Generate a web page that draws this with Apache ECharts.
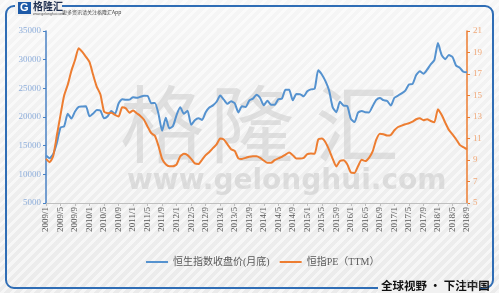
<!DOCTYPE html>
<html>
<head>
<meta charset="utf-8">
<script src="https://cdn.jsdelivr.net/npm/echarts@6/dist/echarts.min.js"></script>
<style>
html,body{margin:0;padding:0;}
#wrap{position:relative;width:499px;height:293px;
background:
 linear-gradient(to bottom, rgba(255,255,255,0.55), rgba(255,255,255,0.15) 70%, rgba(255,255,255,0)),
 repeating-linear-gradient(135deg, #ebebeb 0px, #ebebeb 4px, #f6f6f6 4px, #f6f6f6 7px);
}
#chart{width:499px;height:293px;}
</style>
</head>
<body>
<div id="wrap"><div id="chart"></div></div>
<script>
// ---- data ----
const months = [];
for (let y = 2009; y <= 2018; y++) {
  for (let m = 1; m <= 12; m++) {
    if (y === 2018 && m > 9) break;
    months.push(y + '/' + m);
  }
}
const hsiClose = [
  13278, 12812, 13576, 15521, 18171, 18379, 20573, 19724, 20955, 21753, 21822, 21873,
  20122, 20609, 21239, 21108, 19765, 20129, 21030, 20537, 22359, 23096, 23008, 23035,
  23447, 23338, 23528, 23720, 23684, 22398, 22440, 20535, 17592, 19864, 17989, 18434,
  20390, 21680, 20556, 21094, 18630, 19441, 19796, 19482, 20840, 21642, 22030, 22657,
  23730, 23020, 22300, 22737, 22392, 20803, 21884, 21731, 22860, 23206, 23881, 23306,
  22035, 22837, 22151, 22134, 23082, 23191, 24757, 24742, 22933, 23998, 23987, 23605,
  24507, 24823, 24901, 28133, 27424, 26250, 24636, 21670, 20846, 22640, 21996, 21914,
  19683, 19112, 20777, 21067, 20815, 20794, 21891, 22977, 23297, 22935, 22790, 22001,
  23361, 23741, 24112, 24615, 25661, 25765, 27324, 27970, 27554, 28246, 29177, 29919,
  32887, 30845, 30093, 30808, 30469, 28955, 28583, 27889, 27789
];
const hsiPE = [
  9.1, 8.8, 9.4, 11.3, 13.2, 15.0, 16.0, 17.3, 18.3, 19.4, 19.05, 18.6,
  18.1, 16.9, 15.8, 15.1, 13.5, 13.35, 13.4, 13.2, 13.05, 13.9, 13.8, 13.4,
  13.6, 13.35, 13.1, 12.75, 12.1, 11.5, 11.25, 10.3, 9.1, 8.6, 8.42, 8.42,
  8.6, 9.35, 9.57, 9.45, 9.1, 8.68, 8.62, 9.02, 9.45, 9.75, 10.1, 10.45,
  11.0, 10.9, 10.45, 10.0, 9.85, 9.15, 9.1, 9.2, 9.3, 9.35, 9.35, 9.2,
  8.95, 8.74, 8.74, 8.98, 9.15, 9.3, 9.5, 9.7, 9.45, 9.14, 9.14, 9.2,
  9.55, 9.6, 9.57, 10.9, 11.0, 10.65, 9.95, 9.1, 8.4, 8.9, 8.98, 8.6,
  7.84, 7.8, 8.45, 9.02, 8.9, 9.2, 9.8, 10.9, 11.45, 11.4, 11.27, 11.33,
  11.77, 12.07, 12.2, 12.32, 12.42, 12.57, 12.79, 12.88, 12.7, 12.79, 12.63, 12.51,
  13.72, 13.2, 12.48, 11.8, 11.39, 10.93, 10.41, 10.19, 10.0
];
const seriesNames = ['恒生指数收盘价(月底)', '恒指PE（TTM）'];
const headerText = '更多资讯请关注格隆汇App';
const footerText = '全球视野 · 下注中国';
const watermarkChars = ['格', '隆', '汇'];
const watermarkUrl = 'www.gelonghui.com';

// ---- chart ----
const chart = echarts.init(document.getElementById('chart'), null, {renderer: 'canvas'});
const serif = '"Liberation Serif", "Noto Sans CJK SC", serif';
const bgCover = '#f1f1f1';
const frameBlue = '#2f6db5';
const wmFill = 'rgba(200,200,200,0.5)';

chart.setOption({
  backgroundColor: 'transparent',
  animation: false,
  grid: {left: 46, right: 32, top: 31, bottom: 90},
  legend: {
    data: seriesNames,
    left: 141, top: 252,
    icon: 'rect', itemWidth: 22, itemHeight: 2, itemGap: 10,
    textStyle: {fontFamily: serif, fontSize: 10, color: '#595959'}
  },
  xAxis: {
    type: 'category', data: months, boundaryGap: false,
    axisLine: {lineStyle: {color: '#bfbfbf', width: 1}},
    axisTick: {interval: 3, length: 3, lineStyle: {color: '#bfbfbf'}},
    axisLabel: {interval: 3, rotate: 90, fontFamily: serif, fontSize: 9, color: '#595959', margin: 4}
  },
  yAxis: [
    {
      type: 'value', min: 5000, max: 35000, interval: 5000,
      splitLine: {show: false},
      axisLine: {show: true, lineStyle: {color: '#4a82c4', width: 1.5}},
      axisTick: {show: true, length: 3, lineStyle: {color: '#4a82c4'}},
      axisLabel: {formatter: function (v) { return String(v); }, fontFamily: serif, fontSize: 9, color: '#8eaedb', margin: 5}
    },
    {
      type: 'value', min: 5, max: 21, interval: 2,
      splitLine: {show: false},
      axisLine: {show: true, lineStyle: {color: '#ed7d31', width: 1.5}},
      axisTick: {show: true, length: 3, lineStyle: {color: '#ed7d31'}},
      axisLabel: {fontFamily: serif, fontSize: 9, color: '#f0a878', margin: 6}
    }
  ],
  series: [
    {
      name: seriesNames[0], type: 'line', data: hsiClose, yAxisIndex: 0,
      showSymbol: false, symbol: 'none', smooth: 0.2,
      lineStyle: {color: '#5592cf', width: 2},
      itemStyle: {color: '#5592cf'}, z: 3
    },
    {
      name: seriesNames[1], type: 'line', data: hsiPE, yAxisIndex: 1,
      showSymbol: false, symbol: 'none', smooth: 0.2,
      lineStyle: {color: '#ed7d31', width: 2},
      itemStyle: {color: '#ed7d31'}, z: 3
    }
  ],
  graphic: [
    // watermark
    {type: 'text', z: -10, left: 120, top: 82, style: {text: watermarkChars[0], fontSize: 84, fontFamily: '"Noto Sans CJK SC"', fontWeight: 'normal', fill: wmFill}},
    {type: 'text', z: -10, left: 210, top: 82, style: {text: watermarkChars[1], fontSize: 84, fontFamily: '"Noto Sans CJK SC"', fontWeight: 'normal', fill: wmFill}},
    {type: 'text', z: -10, left: 315, top: 82, style: {text: watermarkChars[2], fontSize: 84, fontFamily: '"Noto Sans CJK SC"', fontWeight: 'normal', fill: wmFill}},
    {type: 'text', z: -10, left: 127, top: 168, style: {text: watermarkUrl, fontSize: 28, fontFamily: '"DejaVu Sans"', fontWeight: 'bold', fill: 'rgba(200,200,200,0.55)'}},
    // frame
    {type: 'rect', z: -5, shape: {x: 6, y: 6, width: 487, height: 282, r: 8}, style: {fill: null, stroke: frameBlue, lineWidth: 2}},
    // logo cover & logo
    {type: 'rect', z: -4, shape: {x: 15, y: 0, width: 47, height: 16}, style: {fill: bgCover}},
    {type: 'rect', z: -3, shape: {x: 18, y: 2, width: 13, height: 12}, style: {fill: '#1d5aa8'}},
    {type: 'text', z: -2, left: 20, top: 2, style: {text: 'G', fontSize: 11, fontWeight: 'bold', fontFamily: '"Liberation Sans"', fill: '#ffffff'}},
    {type: 'text', z: -2, left: 33, top: 1, style: {text: '格隆汇', fontSize: 10, fontWeight: 'bold', fontFamily: '"Noto Sans CJK SC"', fill: '#1f2f4f'}},
    {type: 'text', z: -2, left: 33, top: 12, style: {text: 'www.gelonghui.com', fontSize: 3.5, fontFamily: '"Liberation Sans"', fill: '#555'}},
    {type: 'text', z: -2, left: 62, top: 10, style: {text: headerText, fontSize: 5, fontFamily: '"Noto Sans CJK SC"', fill: '#444'}},
    // footer
    {type: 'rect', z: -4, shape: {x: 378, y: 281, width: 102, height: 12}, style: {fill: bgCover}},
    {type: 'text', z: -2, left: 381, top: 280, style: {text: footerText, fontSize: 11.5, fontWeight: 'bold', fontFamily: '"Noto Sans CJK SC"', fill: '#111'}},
    {type: 'text', z: -1, left: 463, top: 280, style: {text: '格隆汇', fontSize: 8, fontFamily: '"Noto Sans CJK SC"', fill: 'rgba(150,150,150,0.5)'}}
  ]
});
</script>
</body>
</html>
